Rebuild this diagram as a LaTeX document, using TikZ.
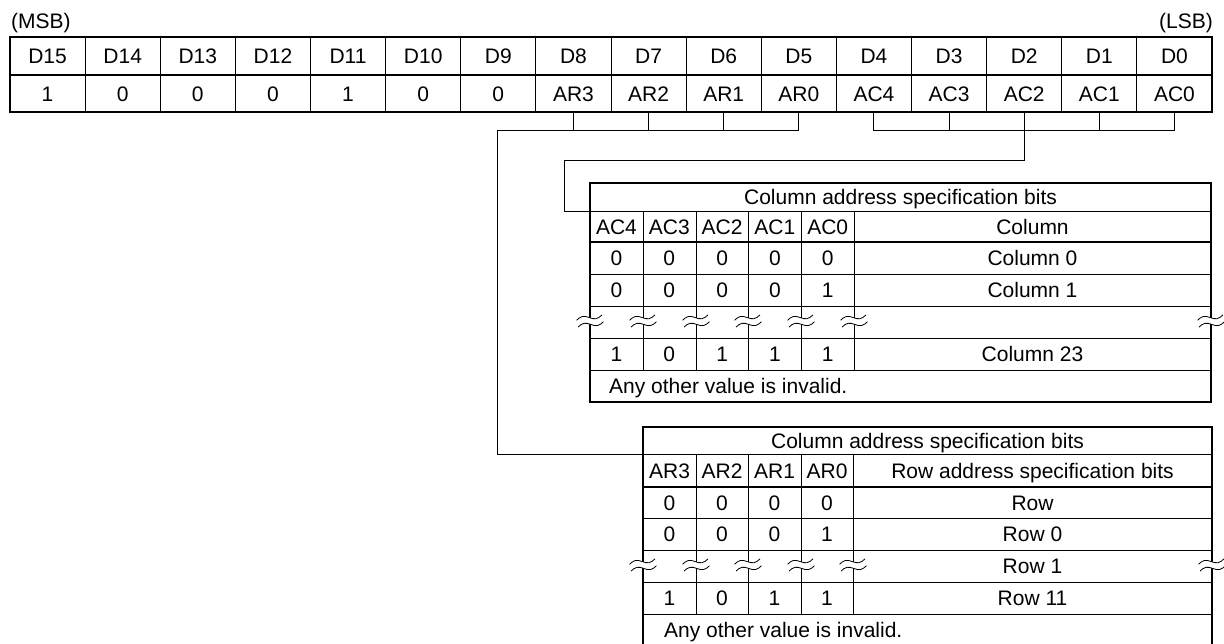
\documentclass[tikz,border=0pt]{standalone}
\usepackage{fontspec}
\setmainfont{Liberation Sans}
\newcommand\brkmark[2]{%
 \begin{scope}[shift={(#1,#2)},rotate=12]
  \draw[white,line width=6pt] (-13,0) sin (-6.5,-2.5) cos (0,0) sin (6.5,2.5) cos (13,0);
  \draw[line width=0.8pt] (-13,-3.5) sin (-6.5,-6) cos (0,-3.5) sin (6.5,-1) cos (13,-3.5);
  \draw[line width=0.8pt] (-13,3.5) sin (-6.5,1) cos (0,3.5) sin (6.5,6) cos (13,3.5);
 \end{scope}}
\begin{document}
\begin{tikzpicture}[x=1pt,y=-1pt,
  every node/.style={font=\fontsize{21}{25}\selectfont, inner sep=0pt},
  txt/.style={anchor=base},
  outer/.style={line width=2.2pt},
  inner/.style={line width=0.8pt},
  mid/.style={line width=1.3pt},
  conn/.style={line width=0.9pt}]
\useasboundingbox (0,0) rectangle (1224,643);
\clip (0,0) rectangle (1224,643);

% labels
\node[anchor=base west] (msb) at (11,28.5) {(MSB)};
\node[anchor=base east] (lsb) at (1213,28.5) {(LSB)};

% top register
\foreach \i in {1,...,15} \draw[inner] ({10+75.125*\i},37) -- ({10+75.125*\i},112);
\draw[mid] (10,75) -- (1212,75);
\draw[outer] (10,37) rectangle (1212,112);
\foreach \t [count=\i from 0] in {D15,D14,D13,D12,D11,D10,D9,D8,D7,D6,D5,D4,D3,D2,D1,D0}
  \node[txt] (d\i) at ({10+75.125*(\i+0.5)},63.5) {\t};
\foreach \t [count=\i from 0] in {1,0,0,0,1,0,0,AR3,AR2,AR1,AR0,AC4,AC3,AC2,AC1,AC0}
  \node[txt] (v\i) at ({10+75.125*(\i+0.5)},101) {\t};

% connectors
\coordinate (tb) at (0,112);
\coordinate (bar) at (0,130);
\coordinate (acl) at (0,160);
\coordinate (t1in) at (590,211);
\coordinate (t2in) at (643,454);
\foreach \k in {7,8,9} \draw[conn] (v\k |- tb) -- (v\k |- bar);
\draw[conn] (v10 |- tb) -- (v10 |- bar) -- (497,130) -- (497,454) -- (t2in);
\foreach \k in {12,14} \draw[conn] (v\k |- tb) -- (v\k |- bar);
\draw[conn] (v11 |- tb) -- (v11 |- bar) -- (v15 |- bar) -- (v15 |- tb);
\draw[conn] (v13 |- tb) -- (v13 |- acl) -- (564,160) -- (564,211) -- (t1in);

% table 1
\foreach \y in {211,274,306,338,370} \draw[inner] (590,\y) -- (1211,\y);
\foreach \x in {643,696,748,801,854} \draw[inner] (\x,211) -- (\x,370);
\draw[outer] (590,242) -- (1211,242);
\draw[outer] (590,183) rectangle (1211,402);
\node[txt] (h1) at (900.5,204.5) {Column address specification bits};
\foreach \t [count=\i from 0] in {AC4,AC3,AC2,AC1,AC0}
  \node[txt] (a\i) at ({616.5+52.8*\i},234) {\t};
\node[txt] (acol) at (1032.5,234) {Column};
\foreach \t [count=\i from 0] in {0,0,0,0,0}
  \node[txt] (p\i) at ({616.5+52.8*\i},265.5) {\t};
\node[txt] (pc) at (1032.5,265.5) {Column 0};
\foreach \t [count=\i from 0] in {0,0,0,0,1}
  \node[txt] (q\i) at ({616.5+52.8*\i},297.5) {\t};
\node[txt] (qc) at (1032.5,297.5) {Column 1};
\foreach \t [count=\i from 0] in {1,0,1,1,1}
  \node[txt] (s\i) at ({616.5+52.8*\i},361.5) {\t};
\node[txt] (sc) at (1032.5,361.5) {Column 23};
\node[anchor=base west] (inv1) at (609,393.5) {Any other value is invalid.};
\foreach \x in {590,643,696,748,801,854,1211} \brkmark{\x}{321};

% table 2
\foreach \y in {454,518,550,582,614} \draw[inner] (643,\y) -- (1212,\y);
\foreach \x in {696,748,801,853} \draw[inner] (\x,454) -- (\x,614);
\draw[outer] (643,487) -- (1212,487);
\draw[outer] (643,427) rectangle (1212,646);
\node[txt] (h2) at (927.5,448) {Column address specification bits};
\foreach \t [count=\i from 0] in {AR3,AR2,AR1,AR0}
  \node[txt] (b\i) at ({669.5+52.5*\i},478) {\t};
\node[txt] (brow) at (1032.5,478) {Row address specification bits};
\foreach \t [count=\i from 0] in {0,0,0,0}
  \node[txt] (e\i) at ({669.5+52.5*\i},510) {\t};
\node[txt] (er) at (1032.5,510) {Row};
\foreach \t [count=\i from 0] in {0,0,0,1}
  \node[txt] (f\i) at ({669.5+52.5*\i},541.5) {\t};
\node[txt] (fr) at (1032.5,541.5) {Row 0};
\node[txt] (gr) at (1032.5,573.5) {Row 1};
\foreach \t [count=\i from 0] in {1,0,1,1}
  \node[txt] (k\i) at ({669.5+52.5*\i},605.5) {\t};
\node[txt] (kr) at (1032.5,605.5) {Row 11};
\node[anchor=base west] (inv2) at (664,637.5) {Any other value is invalid.};
\foreach \x in {643,696,748,801,853,1212} \brkmark{\x}{565};
\end{tikzpicture}
\end{document}
